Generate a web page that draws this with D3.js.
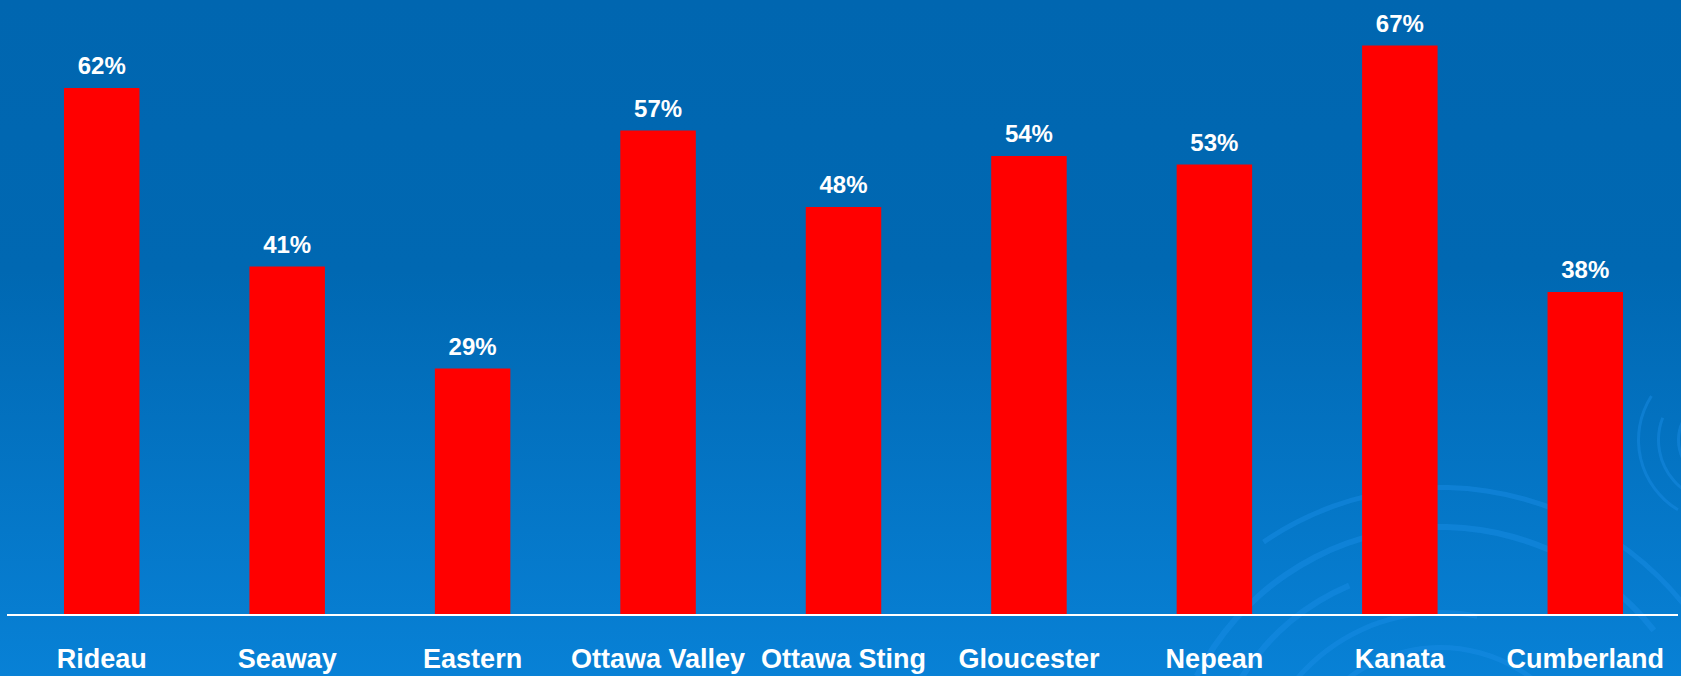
<!DOCTYPE html>
<html>
<head>
<meta charset="utf-8">
<script src="https://cdn.jsdelivr.net/npm/d3@7"></script>
<style>
  html, body { margin: 0; padding: 0; background: #0068b2; }
  svg { display: block; }
</style>
</head>
<body>
<script>
const categories = ["Rideau", "Seaway", "Eastern", "Ottawa Valley", "Ottawa Sting", "Gloucester", "Nepean", "Kanata", "Cumberland"];
const values = [62, 41, 29, 57, 48, 54, 53, 67, 38];
const valueLabels = ["62%", "41%", "29%", "57%", "48%", "54%", "53%", "67%", "38%"];

const W = 1681, H = 676;
const baseY = 615;

const svg = d3.select("body").append("svg").attr("width", W).attr("height", H);

const defs = svg.append("defs");
const grad = defs.append("linearGradient").attr("id", "bg").attr("x1", 0).attr("y1", 0).attr("x2", 0).attr("y2", 1);
grad.append("stop").attr("offset", "0").attr("stop-color", "#0066b0");
grad.append("stop").attr("offset", "0.4").attr("stop-color", "#0068b2");
grad.append("stop").attr("offset", "1").attr("stop-color", "#0881d6");
svg.append("rect").attr("width", W).attr("height", H).attr("fill", "url(#bg)");

// faint decorative swirl arcs (background ornament)
const deco = svg.append("g").attr("fill", "none").attr("stroke", "#1a8fe6").attr("stroke-opacity", 0.55);
const arc = d3.arc();
const swirl = [
  {r: 150, a0: -1.3, a1: 1.2, w: 5},
  {r: 185, a0: -1.5, a1: 0.2, w: 5},
  {r: 230, a0: -1.6, a1: -0.4, w: 6},
  {r: 270, a0: -1.1, a1: 0.9, w: 6},
  {r: 310, a0: -0.6, a1: 1.4, w: 5},
  {r: 120, a0: -0.9, a1: 1.3, w: 4},
  {r: 90, a0: -1.4, a1: 0.8, w: 4}
];
deco.selectAll("path.s").data(swirl).join("path")
  .attr("transform", "translate(1440,800)")
  .attr("fill", "#1a8fe6").attr("fill-opacity", 0.45).attr("stroke", "none")
  .attr("d", d => arc({innerRadius: d.r, outerRadius: d.r + d.w, startAngle: d.a0, endAngle: d.a1}));
const swirl2 = [
  {r: 40, a0: -2.8, a1: -0.3, w: 3},
  {r: 60, a0: -3.4, a1: -1.2, w: 3},
  {r: 80, a0: -2.6, a1: -1.0, w: 3}
];
deco.selectAll("path.t").data(swirl2).join("path")
  .attr("transform", "translate(1720,440)")
  .attr("fill", "#1a8fe6").attr("fill-opacity", 0.45).attr("stroke", "none")
  .attr("d", d => arc({innerRadius: d.r, outerRadius: d.r + d.w, startAngle: d.a0, endAngle: d.a1}));

const x = d3.scaleBand().domain(categories).range([9, 1678]).paddingInner(0.593).paddingOuter(0.2965);
const y = d3.scaleLinear().domain([0, 100]).range([baseY, baseY - 850]);

const data = categories.map((c, i) => ({c, v: values[i], label: valueLabels[i]}));

svg.append("g").selectAll("rect").data(data).join("rect")
  .attr("x", d => x(d.c))
  .attr("width", x.bandwidth())
  .attr("y", d => y(d.v))
  .attr("height", d => y(0) - y(d.v))
  .attr("fill", "#ff0000");

svg.append("g").selectAll("text").data(data).join("text")
  .attr("x", d => x(d.c) + x.bandwidth() / 2)
  .attr("y", d => y(d.v) - 14)
  .attr("text-anchor", "middle")
  .attr("font-family", "Liberation Sans, Arial, sans-serif")
  .attr("font-weight", "bold")
  .attr("font-size", 24)
  .attr("fill", "#ffffff")
  .text(d => d.label);

// baseline axis
const xAxis = d3.axisBottom(x).tickSize(0).tickPadding(0);
const ax = svg.append("g").attr("transform", `translate(0,${baseY})`).call(xAxis);
ax.select(".domain").attr("d", "M7,0H1678").attr("stroke", "#ffffff").attr("stroke-width", 2);
ax.selectAll(".tick text")
  .attr("y", 53)
  .attr("dy", 0)
  .attr("font-family", "Liberation Sans, Arial, sans-serif")
  .attr("font-weight", "bold")
  .attr("font-size", 27)
  .attr("fill", "#ffffff");
</script>
</body>
</html>
